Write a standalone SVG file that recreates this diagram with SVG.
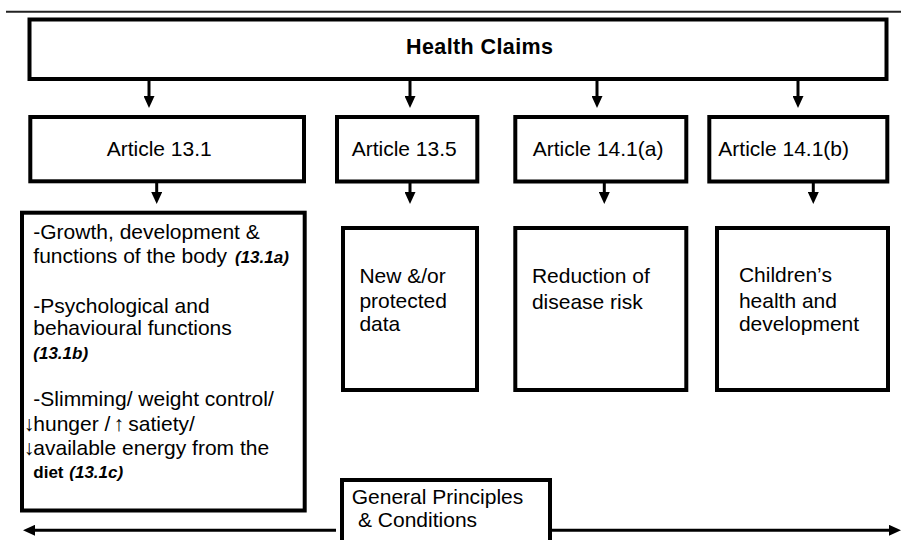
<svg xmlns="http://www.w3.org/2000/svg" width="901" height="540" viewBox="0 0 901 540">
  <style>
    .box { fill: #fff; stroke: #000; stroke-width: 4; }
    .t { font-family: "Liberation Sans", Arial, sans-serif; font-size: 21px; fill: #000; }
    .title { font-weight: bold; font-size: 21.5px; letter-spacing: 0.4px; }
    .note { font-weight: bold; font-style: italic; font-size: 17px; }
    .small { font-weight: bold; font-size: 17px; }
    .conn { stroke: #000; stroke-width: 3; fill: none; marker-end: url(#ah); }
    .rule { stroke: #222; stroke-width: 2; }
  </style>
  <defs>
    <marker id="ah" markerUnits="userSpaceOnUse" markerWidth="12" markerHeight="11" refX="1" refY="5.5" orient="auto">
      <path d="M0,0 L12,5.5 L0,11 z" fill="#000"/>
    </marker>
  </defs>

  <rect width="901" height="540" fill="#fff"/>

  <!-- header rule -->
  <line class="rule" x1="6" y1="11.7" x2="901" y2="11.7"/>

  <!-- connectors -->
  <g id="connectors">
    <line class="conn" x1="149" y1="81" x2="149" y2="97"/>
    <line class="conn" x1="410" y1="81" x2="410" y2="97"/>
    <line class="conn" x1="597" y1="81" x2="597" y2="97"/>
    <line class="conn" x1="798" y1="81" x2="798" y2="97"/>

    <line class="conn" x1="156.7" y1="183" x2="156.7" y2="193"/>
    <line class="conn" x1="410" y1="183" x2="410" y2="193"/>
    <line class="conn" x1="604.3" y1="183" x2="604.3" y2="193"/>
    <line class="conn" x1="813.3" y1="183" x2="813.3" y2="193"/>

    <line class="conn" x1="336" y1="530.3" x2="34" y2="530.3"/>
    <line class="conn" x1="552" y1="530.3" x2="890" y2="530.3"/>
  </g>

  <g id="health-claims">
    <rect class="box" x="29.5" y="19.5" width="857" height="59.5"/>
    <text class="t title" x="406" y="54">Health Claims</text>
  </g>

  <g id="article-13-1">
    <rect class="box" x="30.3" y="117" width="273.7" height="64.3"/>
    <text class="t" x="106.7" y="156">Article 13.1</text>
  </g>

  <g id="article-13-5">
    <rect class="box" x="337" y="117" width="140.3" height="64.5"/>
    <text class="t" x="351.7" y="155.5">Article 13.5</text>
  </g>

  <g id="article-14-1a">
    <rect class="box" x="515.3" y="117" width="171" height="64.5"/>
    <text class="t" x="532.7" y="156">Article 14.1(a)</text>
  </g>

  <g id="article-14-1b">
    <rect class="box" x="709.3" y="117" width="178" height="64.5"/>
    <text class="t" x="718.3" y="156">Article 14.1(b)</text>
  </g>

  <g id="claims-13-1">
    <rect class="box" x="22" y="212.7" width="282.7" height="297.8"/>
    <text class="t" x="33.3" y="239.3">-Growth, development &amp;</text>
    <text class="t" x="33.3" y="263.3">functions of the body <tspan class="note" x="235">(13.1a)</tspan></text>
    <text class="t" x="33.3" y="312.7">-Psychological and</text>
    <text class="t" x="33.3" y="335">behavioural functions</text>
    <text class="t note" x="33.3" y="359.3">(13.1b)</text>
    <text class="t" x="33.3" y="405.7">-Slimming/ weight control/</text>
    <text class="t" y="430.7"><tspan x="23.8">↓</tspan><tspan x="33.3">hunger /</tspan><tspan x="113.5">↑</tspan><tspan x="128.3">satiety/</tspan></text>
    <text class="t" y="455"><tspan x="23.8">↓</tspan><tspan x="33.3">available energy from the</tspan></text>
    <text class="t" y="478.3"><tspan class="small" x="33.3">diet</tspan><tspan class="note" x="69.3">(13.1c)</tspan></text>
  </g>

  <g id="claims-13-5">
    <rect class="box" x="343" y="228" width="134" height="162"/>
    <text class="t" x="359.4" y="282.5">New &amp;/or</text>
    <text class="t" x="359.4" y="307.5">protected</text>
    <text class="t" x="359.4" y="331">data</text>
  </g>

  <g id="claims-14-1a">
    <rect class="box" x="515.3" y="228" width="171" height="162"/>
    <text class="t" x="531.9" y="283">Reduction of</text>
    <text class="t" x="531.9" y="309">disease risk</text>
  </g>

  <g id="claims-14-1b">
    <rect class="box" x="717" y="228" width="171" height="162"/>
    <text class="t" x="738.9" y="282">Children’s</text>
    <text class="t" x="738.9" y="308">health and</text>
    <text class="t" x="738.9" y="331">development</text>
  </g>

  <g id="general-principles">
    <rect class="box" x="342" y="480" width="208" height="80"/>
    <text class="t" x="351.7" y="504.3">General Principles</text>
    <text class="t" x="358" y="527.3">&amp; Conditions</text>
  </g>
</svg>
